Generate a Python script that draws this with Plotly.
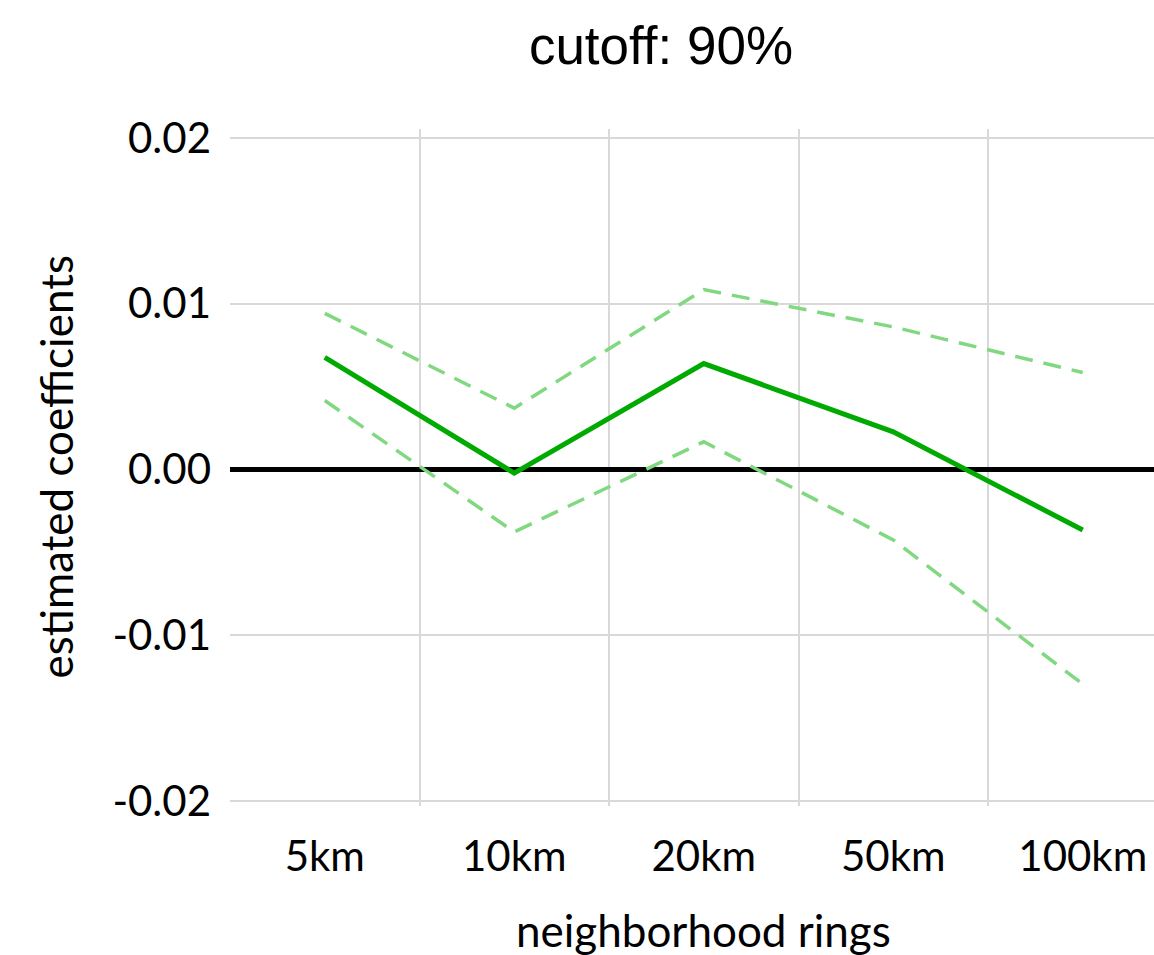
import plotly.graph_objects as go

# Neighborhood ring categories and estimated coefficients with confidence bounds
rings = ["5km", "10km", "20km", "50km", "100km"]
coef = [0.00676, -0.00022, 0.00639, 0.00227, -0.00365]
upper = [0.00942, 0.00370, 0.01085, 0.00860, 0.00585]
lower = [0.00416, -0.00377, 0.00167, -0.00425, -0.01295]
y_ticks = [-0.02, -0.01, 0.0, 0.01, 0.02]
y_tick_text = ["-0.02", "-0.01", "0.00", "0.01", "0.02"]

pos = list(range(len(rings)))

GREEN = "#00AA00"
LIGHT_GREEN = "#80D880"
GRID = "#D9D9D9"
LABEL_FONT = dict(family="Lato", size=42, color="#000000")
TITLE_FONT = dict(family="Lato", size=44, color="#000000")

fig = go.Figure()

for bound in (upper, lower):
    fig.add_trace(go.Scatter(
        x=pos, y=bound, mode="lines",
        line=dict(color=LIGHT_GREEN, width=3.5, dash="18px,11px"),
        showlegend=False, hoverinfo="skip",
    ))

fig.add_trace(go.Scatter(
    x=pos, y=coef, mode="lines",
    line=dict(color=GREEN, width=5),
    showlegend=False,
))

fig.update_layout(
    width=1154, height=955,
    margin=dict(l=230, r=0, t=129, b=149),
    paper_bgcolor="white", plot_bgcolor="white",
    title=dict(
        text="cutoff: 90%",
        font=dict(family="Liberation Sans", size=53, color="#000000"),
        x=661 / 1154, xanchor="center", xref="container",
        y=1 - 45 / 955, yanchor="middle", yref="container",
    ),
    xaxis=dict(
        range=[-0.5, 4.376],
        tickmode="array", tickvals=pos, ticktext=rings,
        tickfont=LABEL_FONT,
        showgrid=False, zeroline=False, showline=False,
        ticks="", ticklabelstandoff=22,
        minor=dict(
            tickmode="array", tickvals=[0.5, 1.5, 2.5, 3.5],
            showgrid=True, gridcolor=GRID, gridwidth=2, ticks="",
        ),
    ),
    yaxis=dict(
        range=[-0.0203, 0.02054],
        tickmode="array", tickvals=y_ticks, ticktext=y_tick_text,
        tickfont=LABEL_FONT,
        showgrid=True, gridcolor=GRID, gridwidth=2,
        zeroline=True, zerolinecolor="#000000", zerolinewidth=4.5,
        showline=False, ticks="", ticklabelstandoff=18,
    ),
    annotations=[
        dict(
            text="neighborhood rings", x=2, xref="x", xanchor="center",
            y=-(930 - 806) / (806 - 129), yref="paper", yanchor="middle",
            showarrow=False, font=TITLE_FONT,
        ),
        dict(
            text="estimated coefficients", textangle=-90,
            x=-(230 - 55) / 924, xref="paper", xanchor="center",
            y=0.5, yref="paper", yanchor="middle",
            showarrow=False, font=TITLE_FONT,
        ),
    ],
)

fig.write_html("out.html")
